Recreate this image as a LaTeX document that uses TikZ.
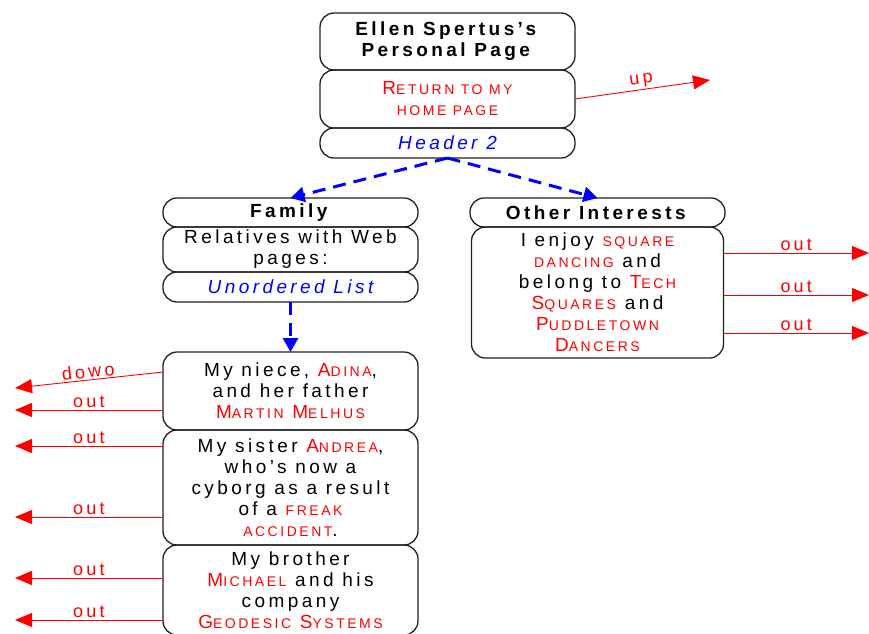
\documentclass[tikz,border=0pt]{standalone}
\usepackage{fontspec}
\setmainfont[LetterSpace=18]{Liberation Sans}
\definecolor{linkred}{HTML}{FF0000}
\definecolor{tagblue}{HTML}{0000FF}
\definecolor{edgegray}{HTML}{202020}
\usetikzlibrary{positioning,arrows.meta,calc}
\newcommand{\lnk}[1]{\textcolor{linkred}{#1}}
\newcommand{\lowcaps}[1]{{\fontsize{14}{21}\selectfont #1}}

\begin{document}
\begin{tikzpicture}[
      x=1pt, y=-1pt,
      node distance=0pt,
      box/.style={rectangle, draw=edgegray, line width=1.3pt, rounded corners=14pt,
                  minimum width=255pt, align=center, inner sep=2pt, outer sep=0pt,
                  font=\fontsize{19}{21}\selectfont},
      lbl/.style={font=\fontsize{18}{18}\selectfont, text=linkred, inner sep=1.5pt},
      outarr/.style={draw=linkred, line width=0.9pt, -{Triangle[length=17pt,width=14pt]}},
      flow/.style={draw=tagblue, line width=3pt, dash pattern=on 13pt off 8pt,
                   -{Triangle[length=14pt,width=15pt]}},
    ]
    \useasboundingbox (0,0) rectangle (869,633);

    % page title
    \node[box, minimum height=57pt] (title) at (447.5,41.5)
      {\textbf{Ellen Spertus's}\\\textbf{Personal Page}};
    \node[box, minimum height=58pt, below=of title] (ret)
      {\lnk{R\lowcaps{ETURN TO MY}}\\\lnk{\lowcaps{HOME PAGE}}};
    \node[box, minimum height=30pt, below=of ret] (hdr)
      {\textcolor{tagblue}{\itshape Header 2}};

    % family column
    \node[box, minimum height=29pt] (family) at (290.5,212.5) {\textbf{Family}};
    \node[box, minimum height=45pt, below=of family] (rel) {Relatives with Web\\pages:};
    \node[box, minimum height=30pt, below=of rel] (ulist)
      {\textcolor{tagblue}{\itshape Unordered List}};

    \node[box, minimum height=78pt] (niece) at (290.5,391)
      {My niece, \lnk{A\lowcaps{DINA}},\\and her father\\\lnk{M\lowcaps{ARTIN} M\lowcaps{ELHUS}}};
    \node[box, minimum height=115pt, below=of niece] (sister)
      {My sister \lnk{A\lowcaps{NDREA}},\\who's now a\\cyborg as a result\\of a \lnk{\lowcaps{FREAK}}\\\lnk{\lowcaps{ACCIDENT}}.};
    \node[box, minimum height=90pt, below=of sister] (brother)
      {My brother\\\lnk{M\lowcaps{ICHAEL}} and his\\company\\\lnk{G\lowcaps{EODESIC} S\lowcaps{YSTEMS}}};

    % interests column
    \node[box, minimum height=29pt] (interests) at (597.5,212.5) {\textbf{Other Interests}};
    \node[box, minimum height=131pt, minimum width=252pt, below=of interests] (enjoy)
      {I enjoy \lnk{\lowcaps{SQUARE}}\\\lnk{\lowcaps{DANCING}} and\\belong to \lnk{T\lowcaps{ECH}}\\%
       \lnk{S\lowcaps{QUARES}} and\\\lnk{P\lowcaps{UDDLETOWN}}\\\lnk{D\lowcaps{ANCERS}}};

    % free ends of the links
    \coordinate (upend) at (710,80);
    \coordinate (r1) at (869,253);
    \coordinate (r2) at (869,295);
    \coordinate (r3) at (869,333);
    \coordinate (d1) at (15,388);
    \coordinate (o1) at (15,410);
    \coordinate (o2) at (15,446);
    \coordinate (o3) at (15,517);
    \coordinate (o4) at (15,578);
    \coordinate (o5) at (15,620);

    \draw[flow] (hdr.south) -- (family.north);
    \draw[flow] (hdr.south) -- (interests.north);
    \draw[flow] (ulist.south) -- (niece.north);

    \draw[outarr] (ret.east) -- node[lbl, sloped, above] {up} (upend);
    \draw[outarr] (enjoy.east |- r1) -- node[lbl, above] {out} (r1);
    \draw[outarr] (enjoy.east |- r2) -- node[lbl, above] {out} (r2);
    \draw[outarr] (enjoy.east |- r3) -- node[lbl, above] {out} (r3);
    \draw[outarr] ($(niece.north west)+(0,20)$) -- node[lbl, sloped, above] {dowo} (d1);
    \draw[outarr] (niece.west |- o1) -- node[lbl, above] {out} (o1);
    \draw[outarr] (sister.west |- o2) -- node[lbl, above] {out} (o2);
    \draw[outarr] (sister.west |- o3) -- node[lbl, above] {out} (o3);
    \draw[outarr] (brother.west |- o4) -- node[lbl, above] {out} (o4);
    \draw[outarr] (brother.west |- o5) -- node[lbl, above] {out} (o5);
  \end{tikzpicture}
\end{document}
